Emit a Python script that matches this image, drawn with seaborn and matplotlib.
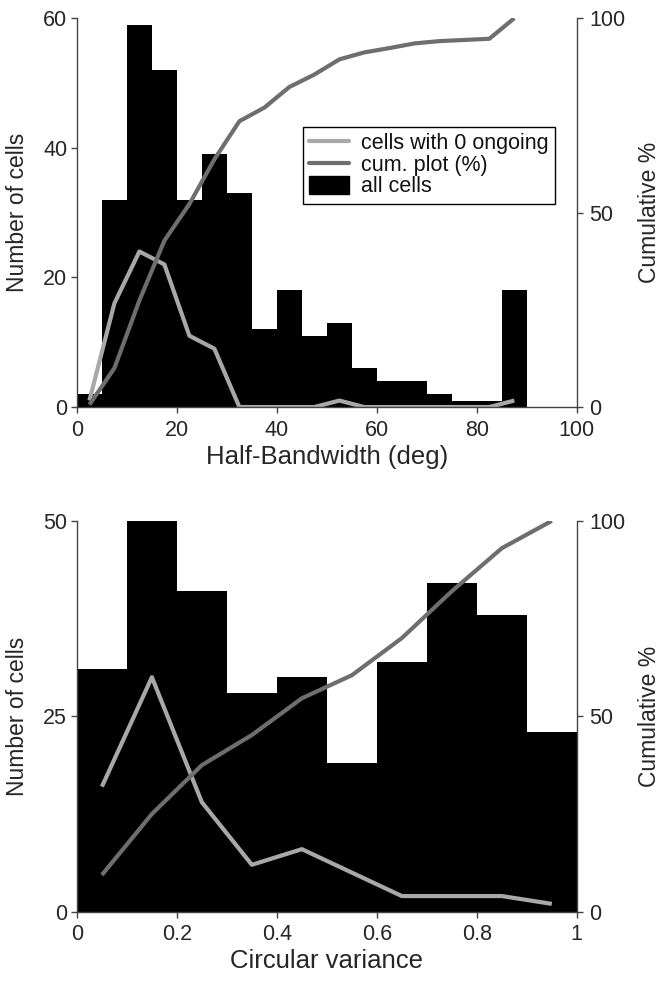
import pandas as pd
import matplotlib
matplotlib.use("Agg")
import matplotlib.pyplot as plt
from matplotlib.lines import Line2D
from matplotlib.patches import Patch
import seaborn as sns

# ---- Half-bandwidth histogram (5 deg bins, 0-90) ----
hbw_edges = [0, 5, 10, 15, 20, 25, 30, 35, 40, 45, 50, 55, 60, 65, 70, 75, 80, 85, 90]
hbw_counts = [2, 32, 59, 52, 32, 39, 33, 12, 18, 11, 13, 6, 4, 4, 2, 1, 1, 18]
hbw_zero_ongoing = [1, 16, 24, 22, 11, 9, 0, 0, 0, 0, 1, 0, 0, 0, 0, 0, 0, 1]
hbw_cum_pct = [0.6, 10.0, 27.4, 42.8, 52.2, 63.7, 73.5, 77.0, 82.3, 85.5,
               89.4, 91.2, 92.3, 93.5, 94.1, 94.4, 94.7, 100.0]

# ---- Circular variance histogram (0.1 bins, 0-1) ----
cv_edges = [0.0, 0.1, 0.2, 0.3, 0.4, 0.5, 0.6, 0.7, 0.8, 0.9, 1.0]
cv_counts = [31, 50, 41, 28, 30, 19, 32, 42, 38, 23]
cv_zero_ongoing = [16, 30, 14, 6, 8, 5, 2, 2, 2, 1]
cv_cum_pct = [9.4, 25.0, 37.5, 45.2, 54.6, 60.5, 70.0, 82.0, 93.0, 100.0]

hbw_xticks = [0, 20, 40, 60, 80, 100]
hbw_yticks = [0, 20, 40, 60]
cv_xticks = [0, 0.2, 0.4, 0.6, 0.8, 1.0]
cv_xticklabels = ["0", "0.2", "0.4", "0.6", "0.8", "1"]
cv_yticks = [0, 25, 50]
cum_ticks = [0, 50, 100]

LIGHT = "#a8a8a8"
DARK = "#6e6e6e"
SPINE = "#444444"

sns.set_theme(style="white")
plt.rcParams["font.family"] = ["Liberation Sans", "DejaVu Sans"]
plt.rcParams["text.color"] = "#111111"

fig = plt.figure(figsize=(6.63, 9.82), dpi=100)
ax_top = fig.add_axes([0.116, 0.5855, 0.754, 0.396])
ax_bot = fig.add_axes([0.116, 0.0716, 0.754, 0.398])

XLABEL_FS = 18.5
YLABEL_FS = 16.5
TICK_FS = 15.5


def panel(ax, edges, counts, zero_ongoing, cum_pct, xlim, ylim, xticks, xticklabels,
          yticks, xlabel):
    centers = [(a + b) / 2 for a, b in zip(edges[:-1], edges[1:])]
    df = pd.DataFrame({"x": centers, "n": counts, "zero": zero_ongoing, "cum": cum_pct})

    sns.histplot(data=df, x="x", weights="n", bins=list(edges), element="step", fill=True,
                 color="black", alpha=1.0, linewidth=0, ax=ax)
    sns.lineplot(data=df, x="x", y="zero", color=LIGHT, linewidth=3.0, ax=ax,
                 solid_capstyle="butt")

    ax2 = ax.twinx()
    sns.lineplot(data=df, x="x", y="cum", color=DARK, linewidth=3.0, ax=ax2,
                 solid_capstyle="butt")

    ax.set_xlim(*xlim)
    ax.set_ylim(*ylim)
    ax2.set_ylim(0, 100)
    ax.set_xticks(xticks)
    ax.set_xticklabels(xticklabels)
    ax.set_yticks(yticks)
    ax2.set_yticks(cum_ticks)

    for a in (ax, ax2):
        for s in a.spines.values():
            s.set_color(SPINE)
            s.set_linewidth(1.0)
        a.spines["top"].set_visible(False)
        a.tick_params(axis="both", direction="out", length=4, width=1.0,
                      color=SPINE, labelsize=TICK_FS, pad=3)
    ax.tick_params(axis="x", pad=5)
    ax.spines["right"].set_visible(False)
    ax2.spines["left"].set_visible(False)
    ax2.spines["bottom"].set_visible(False)
    ax.tick_params(left=True, bottom=True)
    ax2.tick_params(right=True, pad=5)

    ax.set_xlabel(xlabel, fontsize=XLABEL_FS, labelpad=3)
    ax.set_ylabel("Number of cells", fontsize=YLABEL_FS)
    ax.yaxis.set_label_coords(-0.096, 0.5)
    ax2.set_ylabel("Cumulative %", fontsize=YLABEL_FS)
    ax2.yaxis.set_label_coords(1.122, 0.5)
    ax.grid(False)
    ax2.grid(False)
    return ax2


panel(ax_top, hbw_edges, hbw_counts, hbw_zero_ongoing, hbw_cum_pct, (0, 100), (0, 60),
      hbw_xticks, [str(t) for t in hbw_xticks], hbw_yticks, "Half-Bandwidth (deg)")
panel(ax_bot, cv_edges, cv_counts, cv_zero_ongoing, cv_cum_pct, (0, 1), (0, 50),
      cv_xticks, cv_xticklabels, cv_yticks, "Circular variance")

handles = [Line2D([], [], color=LIGHT, linewidth=3.0),
           Line2D([], [], color=DARK, linewidth=3.0),
           Patch(facecolor="black", edgecolor="black")]
labels = ["cells with 0 ongoing", "cum. plot (%)", "all cells"]
leg = fig.legend(handles, labels, loc="upper right",
                 bbox_to_anchor=(555 / 663, 1 - 127 / 982),
                 frameon=True, fancybox=False, framealpha=1, edgecolor="black",
                 fontsize=15.5, borderpad=0.3, labelspacing=0.02, handlelength=1.85,
                 handleheight=0.85, handletextpad=0.55, borderaxespad=0)
leg.get_frame().set_linewidth(1.0)

fig.savefig("out.png", dpi=100)
